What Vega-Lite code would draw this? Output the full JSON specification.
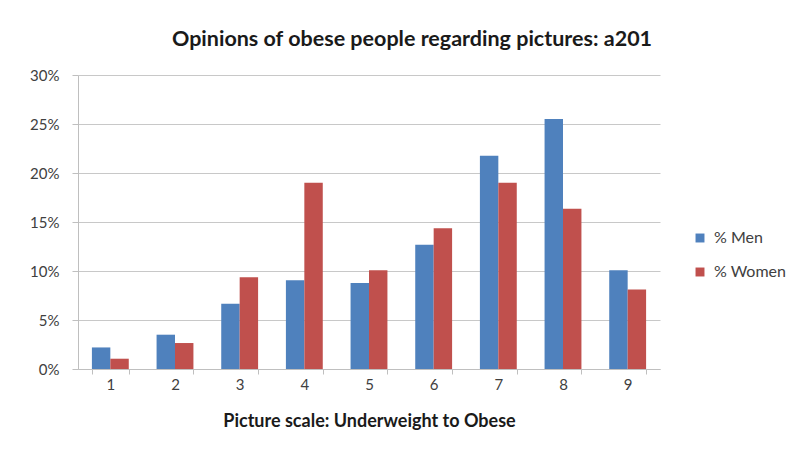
{
  "$schema": "https://vega.github.io/schema/vega-lite/v6.json",
  "autosize": {"type": "none"},
  "padding": {"left": 78, "top": 75, "right": 148, "bottom": 93},
  "width": 582,
  "height": 294,
  "background": "white",
  "title": {
    "text": "Opinions of obese people regarding pictures: a201",
    "font": "Lato",
    "fontSize": 21.5,
    "fontWeight": "bold",
    "color": "#1a1a1a",
    "anchor": "middle",
    "frame": "group",
    "dx": 43,
    "offset": 18
  },
  "data": {
    "values": [
      {"picture": "1", "group": "% Men", "share": 0.022},
      {"picture": "1", "group": "% Women", "share": 0.0105},
      {"picture": "2", "group": "% Men", "share": 0.035},
      {"picture": "2", "group": "% Women", "share": 0.0265},
      {"picture": "3", "group": "% Men", "share": 0.0667},
      {"picture": "3", "group": "% Women", "share": 0.0935},
      {"picture": "4", "group": "% Men", "share": 0.0905},
      {"picture": "4", "group": "% Women", "share": 0.19},
      {"picture": "5", "group": "% Men", "share": 0.0878},
      {"picture": "5", "group": "% Women", "share": 0.1007},
      {"picture": "6", "group": "% Men", "share": 0.1269},
      {"picture": "6", "group": "% Women", "share": 0.1435},
      {"picture": "7", "group": "% Men", "share": 0.2177},
      {"picture": "7", "group": "% Women", "share": 0.19},
      {"picture": "8", "group": "% Men", "share": 0.255},
      {"picture": "8", "group": "% Women", "share": 0.1636},
      {"picture": "9", "group": "% Men", "share": 0.1007},
      {"picture": "9", "group": "% Women", "share": 0.081}
    ]
  },
  "mark": {"type": "bar"},
  "encoding": {
    "x": {
      "field": "picture",
      "type": "ordinal",
      "scale": {"paddingInner": 0.43, "paddingOuter": 0.215},
      "axis": {
        "title": "Picture scale: Underweight to Obese",
        "titleFont": "Lato",
        "titleFontSize": 18,
        "titleFontWeight": "bold",
        "titleColor": "#1a1a1a",
        "titlePadding": 20,
        "labelAngle": 0,
        "labelFont": "Lato",
        "labelFontSize": 15,
        "labelColor": "#404040",
        "labelPadding": 3,
        "tickBand": "extent",
        "tickSize": 5,
        "tickColor": "#bfbfbf",
        "domainColor": "#bfbfbf",
        "grid": false
      }
    },
    "xOffset": {"field": "group", "type": "nominal", "scale": {"paddingInner": 0, "paddingOuter": 0}},
    "y": {
      "field": "share",
      "type": "quantitative",
      "scale": {"domain": [0, 0.3], "nice": false},
      "axis": {
        "title": null,
        "format": ".0%",
        "values": [0, 0.05, 0.1, 0.15, 0.2, 0.25, 0.3],
        "labelFont": "Lato",
        "labelFontSize": 15,
        "labelColor": "#404040",
        "labelPadding": 13,
        "tickSize": 6,
        "tickColor": "#bfbfbf",
        "domainColor": "#bfbfbf",
        "gridColor": "#c8c8c8",
        "gridWidth": 1
      }
    },
    "color": {
      "field": "group",
      "type": "nominal",
      "scale": {"domain": ["% Men", "% Women"], "range": ["#4f81bd", "#c0504d"]},
      "legend": {
        "title": null,
        "orient": "none",
        "legendX": 614,
        "legendY": 155,
        "symbolType": "square",
        "symbolSize": 80,
        "symbolStrokeWidth": 0,
        "labelFont": "Lato",
        "labelFontSize": 16,
        "labelColor": "#404040",
        "rowPadding": 18,
        "labelOffset": 6
      }
    }
  },
  "config": {
    "view": {"stroke": null}
  }
}
